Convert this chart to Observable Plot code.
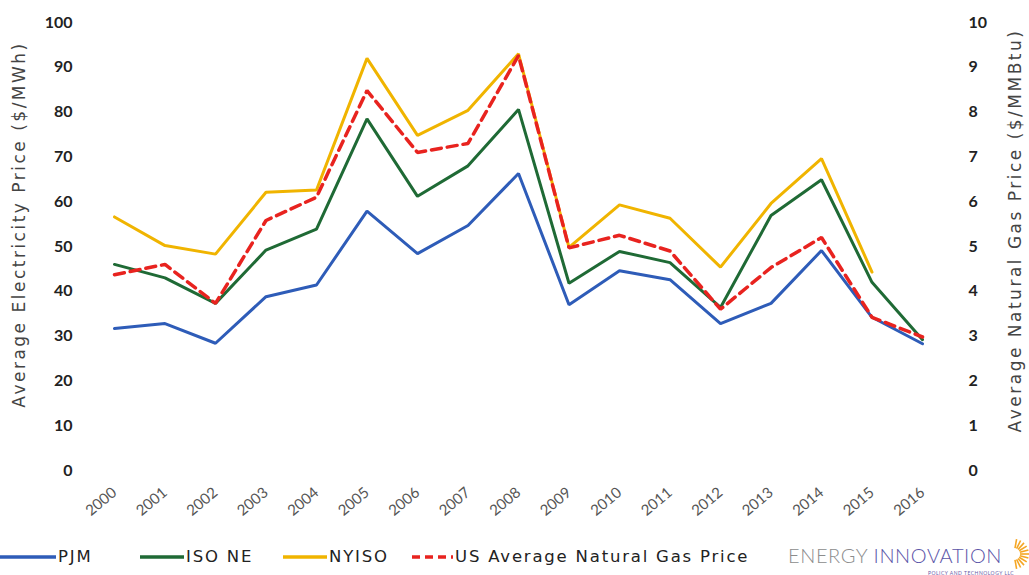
<!DOCTYPE html>
<html>
<head>
<meta charset="utf-8">
<script src="https://cdn.jsdelivr.net/npm/d3@7"></script>
<script src="https://cdn.jsdelivr.net/npm/@observablehq/plot@0.6"></script>
<style>
  html, body { margin: 0; padding: 0; background: #fff; }
  body { width: 1029px; height: 575px; overflow: hidden; position: relative; font-family: Lato, "Open Sans", sans-serif; }
  #legend { position: absolute; left: 0; top: 543px; width: 1029px; height: 32px; font-size: 16.5px; color: #222; font-family: "DejaVu Sans", sans-serif; letter-spacing: 1.8px; }
  .item { position: absolute; top: 4px; display: flex; align-items: center; white-space: nowrap; }
  .item svg { margin-right: 2px; }
  #logo { position: absolute; left: 788px; top: 0px; white-space: nowrap; font-family: Lato, sans-serif; letter-spacing: 0; }
  #logo .t { font-size: 20px; letter-spacing: 0.6px; font-weight: 300; }
  #logo .sub { position: absolute; left: 140px; top: 27px; font-size: 5px; color: #6a5aa8; letter-spacing: 0.5px; }
</style>
</head>
<body>
<div id="chart"></div>
<div id="legend"></div>
<script>
const years = [2000, 2001, 2002, 2003, 2004, 2005, 2006, 2007, 2008, 2009, 2010, 2011, 2012, 2013, 2014, 2015, 2016];
const pjm   = [31.7, 32.8, 28.4, 38.8, 41.4, 57.9, 48.4, 54.7, 66.3, 37.0, 44.6, 42.6, 32.8, 37.3, 49.1, 34.2, 28.3];
const isoNe = [46.0, 43.0, 37.3, 49.2, 53.9, 78.5, 61.2, 68.0, 80.6, 41.8, 48.9, 46.4, 36.4, 56.9, 64.9, 42.0, 29.2];
const nyiso = [56.6, 50.2, 48.3, 62.1, 62.6, 92.0, 74.8, 80.4, 93.0, 49.8, 59.3, 56.3, 45.4, 59.6, 69.6, 44.3, null];
const gasPrice = [4.37, 4.60, 3.73, 5.58, 6.10, 8.48, 7.10, 7.30, 9.26, 4.97, 5.25, 4.90, 3.60, 4.53, 5.20, 3.42, 2.98];

const seriesNames = ["PJM", "ISO NE", "NYISO", "US Average Natural Gas Price"];
const seriesColors = ["#2e5cb8", "#1f6a35", "#f0b400", "#e8231f"];
const leftTicks = [0, 10, 20, 30, 40, 50, 60, 70, 80, 90, 100];
const leftTitle = "Average Electricity Price ($/MWh)";
const rightTitle = "Average Natural Gas Price ($/MMBtu)";

const rows = years.map((y, i) => ({year: y, pjm: pjm[i], isoNe: isoNe[i], nyiso: nyiso[i], gas: gasPrice[i]}));

const tickFont = {fontSize: 16, fontWeight: "bold", fill: "#222"};

const chart = Plot.plot({
  width: 1029,
  height: 535,
  marginLeft: 114,
  marginRight: 107,
  marginTop: 22,
  marginBottom: 65,
  style: {fontFamily: "Lato, 'Open Sans', sans-serif", background: "#fff", overflow: "visible"},
  x: {domain: [2000, 2016]},
  y: {domain: [0, 100]},
  marks: [
    Plot.axisY(leftTicks, {anchor: "left", tickSize: 0, tickPadding: 42, label: null, ...tickFont}),
    Plot.axisY(leftTicks, {anchor: "right", tickSize: 0, tickPadding: 46, label: null, tickFormat: d => String(d / 10), ...tickFont, textAnchor: "start"}),
    Plot.axisX(years, {anchor: "bottom", tickSize: 0, tickPadding: 20, tickRotate: -40, label: null, tickFormat: d => String(d), fontSize: 15, fill: "#555"}),
    Plot.text([leftTitle], {frameAnchor: "left", textAnchor: "middle", dx: -95, dy: -22, rotate: -90, fontSize: 17, fill: "#444", fontFamily: "DejaVu Sans"}),
    Plot.text([rightTitle], {frameAnchor: "right", textAnchor: "middle", dx: 93, dy: -16, rotate: -90, fontSize: 17, fill: "#444", fontFamily: "DejaVu Sans"}),
    Plot.line(rows, {x: "year", y: "nyiso", stroke: seriesColors[2], strokeWidth: 3, strokeLinejoin: "miter"}),
    Plot.line(rows, {x: "year", y: "isoNe", stroke: seriesColors[1], strokeWidth: 3, strokeLinejoin: "miter"}),
    Plot.line(rows, {x: "year", y: "pjm", stroke: seriesColors[0], strokeWidth: 3, strokeLinejoin: "miter"}),
    Plot.line(rows, {x: "year", y: d => d.gas * 10, stroke: seriesColors[3], strokeWidth: 3.5, strokeDasharray: "10,6", strokeLinejoin: "miter"})
  ]
});
document.getElementById("chart").appendChild(chart);
d3.select(chart).selectAll("text").filter(function () {
  const t = this.textContent;
  return t === leftTitle || t === rightTitle;
}).style("letter-spacing", "2.5px");

// Legend
const legend = document.getElementById("legend");
const legendX = [0, 140, 283, 412];
const swatchW = [56, 44, 44, 41];
seriesNames.forEach((name, i) => {
  const item = document.createElement("div");
  item.className = "item";
  item.style.left = legendX[i] + "px";
  const dash = i === 3 ? 'stroke-dasharray="8,5"' : "";
  item.innerHTML = `<svg width="${swatchW[i]}" height="10"><line x1="0" y1="5" x2="${swatchW[i]}" y2="5" stroke="${seriesColors[i]}" stroke-width="3.5" ${dash}/></svg><span>${name}</span>`;
  legend.appendChild(item);
});
const logo = document.createElement("div");
logo.id = "logo";
let rays = "";
for (let k = 0; k < 11; k++) {
  const a = (-80 + k * 16) * Math.PI / 180;
  const r1 = 6, r2 = 15;
  rays += `<line x1="${(r1 * Math.cos(a)).toFixed(1)}" y1="${(r1 * Math.sin(a)).toFixed(1)}" x2="${(r2 * Math.cos(a)).toFixed(1)}" y2="${(r2 * Math.sin(a)).toFixed(1)}" stroke="#f5a623" stroke-width="1.6"/>`;
}
logo.innerHTML = `<span class="t" style="color:#8c8c8c">ENERGY </span><span class="t" style="color:#5b55a8">INNOVATION</span><svg width="24" height="34" style="position:absolute;left:222px;top:-6px"><g transform="translate(4,17)">${rays}</g></svg><div class="sub">POLICY AND TECHNOLOGY LLC</div>`;
legend.appendChild(logo);
</script>
</body>
</html>
